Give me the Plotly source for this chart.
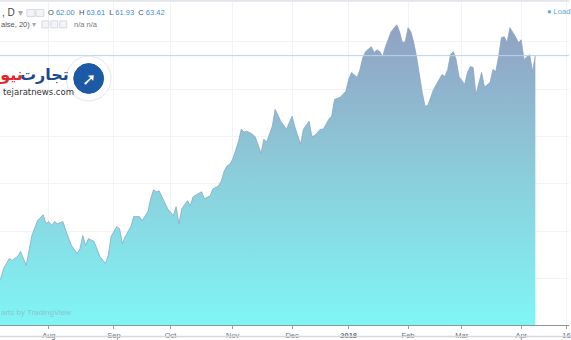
import plotly.graph_objects as go

# ---------------- data ----------------
dates = [
    "2017-07-05", "2017-07-07", "2017-07-10", "2017-07-12", "2017-07-13", "2017-07-17", "2017-07-18",
    "2017-07-19", "2017-07-20", "2017-07-24", "2017-07-25", "2017-07-26", "2017-07-28", "2017-07-31",
    "2017-08-01", "2017-08-02", "2017-08-03", "2017-08-04", "2017-08-08", "2017-08-09", "2017-08-11",
    "2017-08-15", "2017-08-16", "2017-08-17", "2017-08-18", "2017-08-21", "2017-08-23", "2017-08-25",
    "2017-08-29", "2017-08-30", "2017-08-31",
    "2017-09-05", "2017-09-06", "2017-09-07", "2017-09-08", "2017-09-12", "2017-09-13", "2017-09-15",
    "2017-09-18", "2017-09-20", "2017-09-21", "2017-09-22", "2017-09-25", "2017-09-26", "2017-09-27",
    "2017-09-29",
    "2017-10-03", "2017-10-04", "2017-10-05", "2017-10-06", "2017-10-10", "2017-10-11", "2017-10-12",
    "2017-10-17", "2017-10-18", "2017-10-20", "2017-10-23", "2017-10-25", "2017-10-26", "2017-10-27",
    "2017-10-30", "2017-10-31",
    "2017-11-01", "2017-11-03", "2017-11-06", "2017-11-07", "2017-11-08", "2017-11-10", "2017-11-13",
    "2017-11-14", "2017-11-15", "2017-11-16", "2017-11-17", "2017-11-21", "2017-11-22", "2017-11-27",
    "2017-11-29",
    "2017-12-01", "2017-12-04", "2017-12-06", "2017-12-07", "2017-12-11", "2017-12-12", "2017-12-13",
    "2017-12-15", "2017-12-18", "2017-12-20", "2017-12-21", "2017-12-22", "2017-12-27", "2017-12-29",
    "2018-01-02", "2018-01-03", "2018-01-05", "2018-01-08", "2018-01-09", "2018-01-10", "2018-01-12",
    "2018-01-16", "2018-01-17", "2018-01-18", "2018-01-19", "2018-01-22", "2018-01-24", "2018-01-25",
    "2018-01-26", "2018-01-29", "2018-01-30", "2018-01-31",
    "2018-02-01", "2018-02-02", "2018-02-05", "2018-02-06", "2018-02-07", "2018-02-08", "2018-02-09",
    "2018-02-12", "2018-02-14", "2018-02-16", "2018-02-20", "2018-02-21", "2018-02-22", "2018-02-23",
    "2018-02-26", "2018-02-27", "2018-02-28",
    "2018-03-02", "2018-03-05", "2018-03-06", "2018-03-07", "2018-03-08", "2018-03-12", "2018-03-13",
    "2018-03-15", "2018-03-16", "2018-03-19", "2018-03-20", "2018-03-21", "2018-03-22", "2018-03-23",
    "2018-03-26", "2018-03-27", "2018-03-28", "2018-03-29",
    "2018-04-02", "2018-04-03", "2018-04-04", "2018-04-05", "2018-04-06", "2018-04-09",
]

close = [
    53.59, 54.01, 54.43, 54.85, 54.77, 54.94, 55.15, 54.85, 54.56, 55.82, 56.11, 56.45, 56.70, 56.32,
    56.41, 56.24, 56.41, 56.32, 56.41, 56.03, 55.40, 55.06, 55.27, 55.82, 55.40, 55.69, 55.57, 54.94,
    54.64, 54.98, 55.78,
    56.20, 56.11, 55.48, 55.78, 56.20, 56.62, 56.62, 56.45, 56.83, 57.37, 57.75, 57.67, 57.71, 57.46,
    56.95,
    56.66, 57.04, 56.32, 56.95, 57.29, 57.08, 57.46, 57.67, 57.37, 57.50, 57.79, 57.92, 58.13, 58.55,
    58.76, 58.84,
    59.05, 59.77, 60.31, 60.19, 60.23, 60.10, 59.98, 59.60, 59.30, 59.89, 59.77, 60.44, 61.15, 60.65,
    60.31,
    60.86, 60.40, 59.68, 60.31, 60.65, 60.00, 60.05, 60.31, 60.31, 60.73, 60.86, 61.57, 61.66, 61.91,
    62.41, 62.71, 62.50, 62.83, 63.34, 63.59, 63.80, 63.55, 63.67, 63.59, 63.38, 63.80, 64.43, 64.60,
    64.72, 64.43, 63.97, 64.01,
    64.60, 64.43, 63.97, 63.38, 62.54, 61.87, 61.28, 61.32, 61.99, 62.41, 62.62, 62.54, 62.83, 63.46,
    63.59, 63.25, 62.54,
    62.20, 62.71, 62.96, 62.92, 61.78, 62.71, 62.08, 62.29, 62.83, 62.75, 63.38, 64.18, 64.22, 63.97,
    64.60, 64.43, 64.22, 63.97,
    64.09, 63.25, 63.38, 63.46, 62.75, 63.42,
]

last_price = 63.42
ohlc_labels = ["O", "H", "L", "C"]
ohlc_values = ["62.00", "63.61", "61.93", "63.42"]

tick_dates = ["2017-08-01", "2017-09-01", "2017-10-02", "2017-11-01", "2017-12-01",
              "2018-01-02", "2018-02-01", "2018-03-01", "2018-04-02", "2018-04-24"]
tick_text = ["Aug", "Sep", "Oct", "Nov", "Dec", "<b>2018</b>", "Feb", "Mar", "Apr", "16"]

holidays = ["2017-07-04", "2017-09-04", "2017-11-23", "2017-12-25", "2018-01-01",
            "2018-01-15", "2018-02-19", "2018-03-30"]

# ---------------- layout helpers ----------------
W, H = 571, 340
PH = 327  # plot area height (px)
Y_MIN, Y_MAX = 52.04, 65.77


def fx(x):
    return x / W


def fy(y):
    return 1 - y / PH


FONT = "Liberation Sans, Arial, sans-serif"

fig = go.Figure()
fig.add_trace(go.Scatter(
    x=dates, y=close, mode="lines",
    line=dict(color="rgba(135,160,195,0.9)", width=0.8),
    fill="tozeroy",
    fillgradient=dict(type="vertical",
                      colorscale=[[0, "#7ff6f6"], [0.5, "#8ccad9"], [1, "#9299be"]],
                      start=Y_MIN, stop=Y_MAX),
    hoverinfo="skip", showlegend=False,
))

shapes = []
# last-price line
shapes.append(dict(type="line", xref="paper", yref="y", x0=0, x1=1, y0=last_price, y1=last_price,
                   line=dict(color="#b7d3ec", width=1), layer="above"))
# top and bottom borders
shapes.append(dict(type="line", xref="paper", yref="paper", x0=0, x1=1, y0=fy(0.8), y1=fy(0.8),
                   line=dict(color="#e3e5ea", width=2)))
shapes.append(dict(type="line", xref="paper", yref="paper", x0=0, x1=1, y0=fy(338.5), y1=fy(338.5),
                   line=dict(color="#d5d8de", width=1.5)))

# toolbar icons (small grey boxes)
for (a, b, yy) in [(27, 35, 13), (36, 44, 13), (42, 49, 24.5), (51, 58, 24.5), (60, 67, 24.5)]:
    shapes.append(dict(type="rect", xref="paper", yref="paper",
                       x0=fx(a), x1=fx(b), y0=fy(yy - 3.5), y1=fy(yy + 3.5),
                       line=dict(color="#d6d9de", width=1), fillcolor="#f3f4f6"))

# logo circles
cx, cy = 89, 79
for r, col, lc in [(22.5, "#ffffff", "#e4e6ea"), (15, "#1d5aa6", "#1d5aa6")]:
    shapes.append(dict(type="circle", xref="paper", yref="paper",
                       x0=fx(cx - r), x1=fx(cx + r), y0=fy(cy + r), y1=fy(cy - r),
                       line=dict(color=lc, width=1), fillcolor=col, layer="above"))

ann = []
blue = "#3f8ed3"
grey = "#4a4a4a"
ohlc_html = "  ".join(
    f"<span style='color:{grey}'>{l}</span> <span style='color:{blue}'>{v}</span>"
    for l, v in zip(ohlc_labels, ohlc_values))
ann.append(dict(x=fx(0), y=fy(13), text=f"<span style='color:{grey}'>, D</span> "
                "<span style='color:#aaa'>▾</span>",
                font=dict(size=10, family=FONT)))
ann.append(dict(x=fx(46), y=fy(13), text=ohlc_html, font=dict(size=7.5, family=FONT)))
ann.append(dict(x=fx(-1), y=fy(24.5), text="alse, 20) <span style='color:#aaa'>▾</span>",
                font=dict(size=7.5, family=FONT, color="#555")))
ann.append(dict(x=fx(72), y=fy(24.5), text="n/a n/a",
                font=dict(size=7.5, family=FONT, color="#777")))
ann.append(dict(x=fx(547), y=fy(12), text="● Loadi",
                font=dict(size=7.5, family=FONT, color="#5ea7dc")))
ann.append(dict(x=fx(-1), y=fy(314), text="arts by TradingView",
                font=dict(size=8, family=FONT, color="#8fc3cd")))
# logo text
ann.append(dict(x=fx(71), y=fy(75), xanchor="right", text="<b>تجارت</b>",
                font=dict(size=16, family="DejaVu Sans", color="#1f4a8c")))
ann.append(dict(x=fx(25), y=fy(75), xanchor="right", text="<b>نیوز</b>",
                font=dict(size=16, family="DejaVu Sans", color="#e3262b")))
ann.append(dict(x=fx(1), y=fy(92.5), text="tejaratnews.com",
                font=dict(size=8.5, family="DejaVu Sans", color="#333")))
ann.append(dict(x=fx(cx + 0.5), y=fy(cy + 0.5), xanchor="center", text="<b>➚</b>",
                font=dict(size=17, family="DejaVu Sans", color="#ffffff")))

for a in ann:
    a.setdefault("xanchor", "left")
    a.update(xref="paper", yref="paper", yanchor="middle", showarrow=False)

fig.update_layout(
    width=W, height=H,
    margin=dict(l=0, r=0, t=0, b=H - PH),
    paper_bgcolor="white", plot_bgcolor="white",
    shapes=shapes, annotations=ann,
    xaxis=dict(
        type="date",
        range=["2017-07-06 17:30", "2018-04-24 21:30"],
        rangebreaks=[dict(bounds=["sat", "mon"]), dict(values=holidays)],
        tickvals=tick_dates, ticktext=tick_text,
        tickfont=dict(size=7.5, family=FONT, color="#6b6f78"),
        ticks="outside", ticklen=3, tickcolor="#9aa0a8",
        showline=True, linecolor="#8e949c", linewidth=1,
        showgrid=True, gridcolor="#f1f3f6", gridwidth=1,
        ticklabeloverflow="allow", zeroline=False,
    ),
    yaxis=dict(
        range=[Y_MIN, Y_MAX], showticklabels=False, ticks="",
        showgrid=True, gridcolor="#f1f3f6", dtick=2, zeroline=False,
    ),
)

fig.write_html("out.html")
